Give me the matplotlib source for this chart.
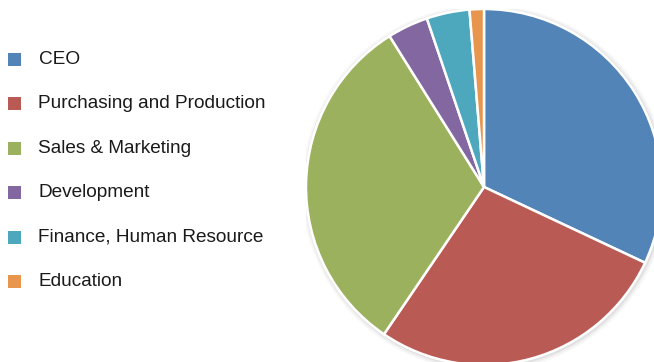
import matplotlib
matplotlib.use("Agg")
import matplotlib.pyplot as plt
from matplotlib.patches import Rectangle, Circle

categories = ["CEO", "Purchasing and Production", "Sales & Marketing",
              "Development", "Finance, Human Resource", "Education"]
values = [32.0, 27.5, 31.6, 3.7, 3.9, 1.3]
colors = ["#5384B7", "#B95A54", "#9CB15E", "#8267A0", "#4DA8BE", "#E8954E"]

W, H = 654, 362
fig = plt.figure(figsize=(W / 100, H / 100), dpi=100)
fig.patch.set_facecolor("white")

cx, cy, r = 484, 187, 178
ax = fig.add_axes([(cx - r) / W, (H - cy - r) / H, 2 * r / W, 2 * r / H])

wedges, _ = ax.pie(values, colors=colors, startangle=90, counterclock=False,
                   radius=1.0, wedgeprops=dict(edgecolor="white", linewidth=1.8))
for w in wedges:
    w.set_zorder(2)

# soft shadow
for rr, a in [(1.030, 0.05), (1.020, 0.08), (1.010, 0.12)]:
    ax.add_patch(Circle((0.006, -0.006), rr, color="#808080", alpha=a, lw=0, zorder=0))

ax.set_aspect("auto")
ax.set_xlim(-1, 1)
ax.set_ylim(-1, 1)
ax.axis("off")

# legend
y0, dy = 59, 44.5
for i, (lab, col) in enumerate(zip(categories, colors)):
    yc = y0 + i * dy
    fig.patches.append(Rectangle((8 / W, 1 - (yc + 6.5) / H), 13 / W, 13 / H,
                                 transform=fig.transFigure, facecolor=col,
                                 edgecolor="none", figure=fig))
    fig.text(38.5 / W, 1 - yc / H, lab, fontsize=13.65, family="Liberation Sans",
             va="center", ha="left", color="#1a1a1a")

fig.savefig("out.png", dpi=100, facecolor="white")
